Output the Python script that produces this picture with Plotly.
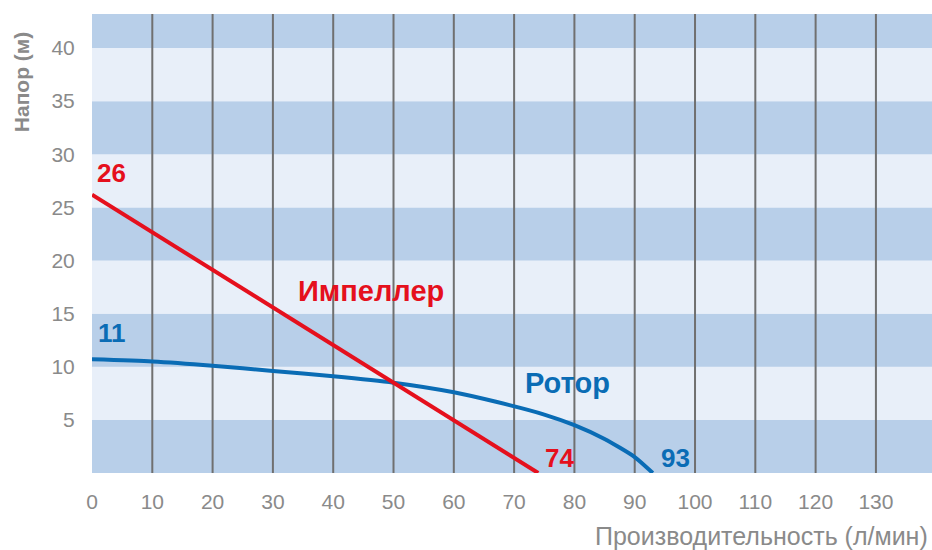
import plotly.graph_objects as go

# Data
impeller_x = [0, 74]
impeller_y = [26.2, 0]
rotor_x = [0, 10, 20, 30, 40, 50, 60, 67, 75, 80, 85, 90, 93]
rotor_y = [10.7, 10.5, 10.1, 9.6, 9.1, 8.5, 7.6, 6.7, 5.5, 4.5, 3.2, 1.5, 0]
x_ticks = list(range(0, 140, 10))
y_ticks = list(range(5, 45, 5))
band_edges = list(range(0, 50, 5))

RED = "#e5101d"
BLUE = "#0a6cb5"
DARK = "#b8cfe9"
LIGHT = "#e8eff9"
GRAY = "#8a8a8a"
FONT = "Liberation Sans, Arial, sans-serif"

X_MAX = 139.3
Y_MAX = 43.2

fig = go.Figure()
fig.add_trace(go.Scatter(x=rotor_x, y=rotor_y, mode="lines",
                         line=dict(color=BLUE, width=4, shape="spline", smoothing=0.6),
                         hoverinfo="skip", showlegend=False))
fig.add_trace(go.Scatter(x=impeller_x, y=impeller_y, mode="lines",
                         line=dict(color=RED, width=4),
                         hoverinfo="skip", showlegend=False))

shapes = []
for i in range(len(band_edges) - 1):
    shapes.append(dict(type="rect", xref="x", yref="y", x0=0, x1=X_MAX,
                       y0=band_edges[i], y1=min(band_edges[i + 1], Y_MAX),
                       fillcolor=DARK if i % 2 == 0 else LIGHT,
                       line=dict(width=0), layer="below"))
for xv in x_ticks[1:]:
    shapes.append(dict(type="line", xref="x", yref="y", x0=xv, x1=xv, y0=0, y1=Y_MAX,
                       line=dict(color="#707070", width=2), layer="below"))

annotations = [
    dict(x=3.3, y=28.2, text="<b>26</b>", font=dict(color=RED, size=26)),
    dict(x=3.3, y=13.2, text="<b>11</b>", font=dict(color=BLUE, size=26)),
    dict(x=46.3, y=17.1, text="<b>Импеллер</b>", font=dict(color=RED, size=29)),
    dict(x=78.8, y=8.5, text="<b>Ротор</b>", font=dict(color=BLUE, size=29)),
    dict(x=77.6, y=1.4, text="<b>74</b>", font=dict(color=RED, size=26)),
    dict(x=96.8, y=1.4, text="<b>93</b>", font=dict(color=BLUE, size=26)),
]
for a in annotations:
    a.update(xref="x", yref="y", showarrow=False, xanchor="center", yanchor="middle")
    a["font"]["family"] = FONT

annotations.append(dict(xref="paper", yref="paper", x=0.998, y=-0.1375, yanchor="middle",
                        xanchor="right", showarrow=False,
                        text="Производительность (л/мин)",
                        font=dict(family=FONT, size=25, color=GRAY)))
annotations.append(dict(xref="paper", yref="paper", x=-0.083, y=0.852, xanchor="center",
                        yanchor="middle", textangle=-90, showarrow=False,
                        text="<b>Напор (м)</b>",
                        font=dict(family=FONT, size=21, color=GRAY)))

fig.update_layout(
    width=932, height=550,
    margin=dict(l=92, r=0, t=14, b=77),
    paper_bgcolor="white", plot_bgcolor=LIGHT,
    shapes=shapes, annotations=annotations,
    xaxis=dict(range=[0, X_MAX], tickvals=x_ticks, showgrid=False, zeroline=False,
               ticks="outside", ticklen=10, tickcolor="rgba(0,0,0,0)",
               tickfont=dict(family=FONT, size=21, color=GRAY), fixedrange=True),
    yaxis=dict(range=[0, Y_MAX], tickvals=y_ticks, showgrid=False, zeroline=False,
               ticks="outside", ticklen=12, tickcolor="rgba(0,0,0,0)",
               tickfont=dict(family=FONT, size=21, color=GRAY), fixedrange=True),
)

fig.write_html("out.html", config={"displayModeBar": False},
               post_script="document.body.style.margin='0';document.body.style.overflow='hidden';")
